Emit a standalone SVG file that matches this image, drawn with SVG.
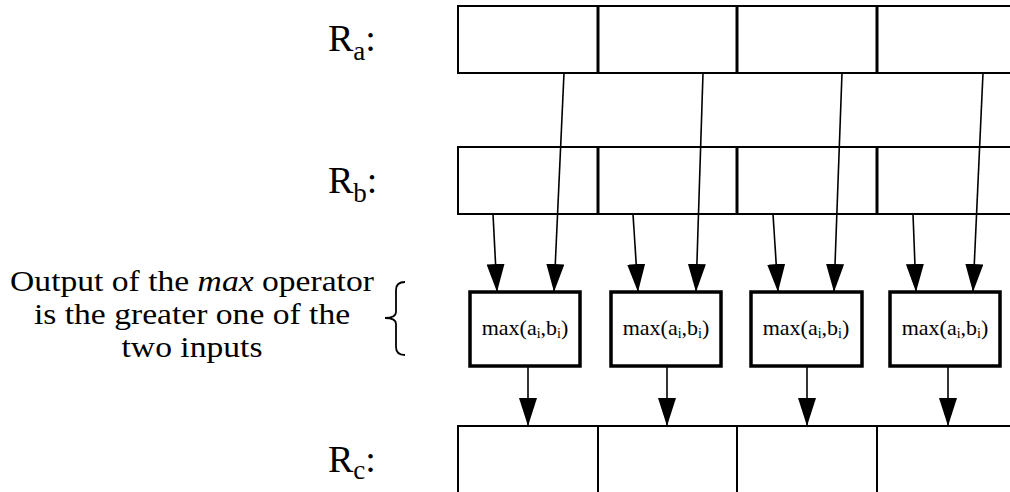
<svg xmlns="http://www.w3.org/2000/svg" width="1010" height="492" viewBox="0 0 1010 492">
  <style>
    .lbl { font-family: "Liberation Serif", "Times New Roman", serif; fill: #000; }
    .cell { fill: none; stroke: #000; stroke-width: 2; }
    .div { stroke: #000; stroke-width: 3; }
    .op { fill: #fff; stroke: #000; stroke-width: 3.5; }
    .wire { stroke: #000; stroke-width: 1.6; fill: none; marker-end: url(#head); }
  </style>
  <defs>
    <marker id="head" viewBox="0 0 28 18" markerWidth="28" markerHeight="18" refX="28" refY="9" orient="auto" markerUnits="userSpaceOnUse">
      <path d="M0,0 L28,9 L0,18 z" fill="#000"/>
    </marker>
  </defs>
  <rect width="1010" height="492" fill="#fff"/>

  <!-- register Ra -->
  <g id="reg-a">
    <rect class="cell" x="458" y="6" width="560" height="67"/>
    <line class="div" x1="598" y1="6" x2="598" y2="73"/>
    <line class="div" x1="737" y1="6" x2="737" y2="73"/>
    <line class="div" x1="877" y1="6" x2="877" y2="73"/>
    <text class="lbl" x="328" y="51" font-size="38" font-family="Liberation Serif, serif">R<tspan font-size="27" dy="9">a</tspan><tspan dy="-9">:</tspan></text>
  </g>

  <!-- register Rb -->
  <g id="reg-b">
    <rect class="cell" x="458" y="147" width="560" height="67"/>
    <line class="div" x1="598" y1="147" x2="598" y2="214"/>
    <line class="div" x1="737" y1="147" x2="737" y2="214"/>
    <line class="div" x1="877" y1="147" x2="877" y2="214"/>
    <text class="lbl" x="328" y="193" font-size="38" font-family="Liberation Serif, serif">R<tspan font-size="27" dy="9">b</tspan><tspan dy="-9">:</tspan></text>
  </g>

  <!-- register Rc -->
  <g id="reg-c">
    <rect class="cell" x="458" y="426" width="560" height="80"/>
    <line class="cell" x1="598" y1="426" x2="598" y2="492"/>
    <line class="cell" x1="737" y1="426" x2="737" y2="492"/>
    <line class="cell" x1="877" y1="426" x2="877" y2="492"/>
    <text class="lbl" x="328" y="472" font-size="38" font-family="Liberation Serif, serif">R<tspan font-size="27" dy="7">c</tspan><tspan dy="-7">:</tspan></text>
  </g>

  <!-- max operators -->
  <g id="max-1">
    <rect class="op" x="470" y="292" width="110" height="74"/>
    <text class="lbl" x="525" y="335" font-size="22" font-family="Liberation Serif, serif" text-anchor="middle">max(a<tspan font-size="14" dy="3">i</tspan><tspan dy="-3">,b</tspan><tspan font-size="14" dy="3">i</tspan><tspan dy="-3">)</tspan></text>
  </g>
  <g id="max-2">
    <rect class="op" x="611" y="292" width="110" height="74"/>
    <text class="lbl" x="666" y="335" font-size="22" font-family="Liberation Serif, serif" text-anchor="middle">max(a<tspan font-size="14" dy="3">i</tspan><tspan dy="-3">,b</tspan><tspan font-size="14" dy="3">i</tspan><tspan dy="-3">)</tspan></text>
  </g>
  <g id="max-3">
    <rect class="op" x="751" y="292" width="111" height="74"/>
    <text class="lbl" x="806" y="335" font-size="22" font-family="Liberation Serif, serif" text-anchor="middle">max(a<tspan font-size="14" dy="3">i</tspan><tspan dy="-3">,b</tspan><tspan font-size="14" dy="3">i</tspan><tspan dy="-3">)</tspan></text>
  </g>
  <g id="max-4">
    <rect class="op" x="890" y="292" width="110" height="74"/>
    <text class="lbl" x="945" y="335" font-size="22" font-family="Liberation Serif, serif" text-anchor="middle">max(a<tspan font-size="14" dy="3">i</tspan><tspan dy="-3">,b</tspan><tspan font-size="14" dy="3">i</tspan><tspan dy="-3">)</tspan></text>
  </g>

  <!-- explanatory note with brace -->
  <g id="note">
    <g transform="translate(192,0) scale(1.12,1)">
      <text class="lbl" x="0" y="291" font-size="30" font-family="Liberation Serif, serif" text-anchor="middle">Output of the <tspan font-style="italic">max</tspan> operator</text>
      <text class="lbl" x="0" y="324" font-size="30" font-family="Liberation Serif, serif" text-anchor="middle">is the greater one of the</text>
      <text class="lbl" x="0" y="357" font-size="30" font-family="Liberation Serif, serif" text-anchor="middle">two inputs</text>
    </g>
    <path d="M405,282 Q396,282 396,290 L396,312 Q396,318 385,318 Q396,318 396,324 L396,347 Q396,355 405,355" fill="none" stroke="#000" stroke-width="1.8"/>
  </g>

  <!-- data paths -->
  <g id="connectors">
    <line class="wire" x1="493" y1="214" x2="497" y2="292"/>
    <line class="wire" x1="564" y1="73" x2="554" y2="292"/>
    <line class="wire" x1="633" y1="214" x2="638" y2="292"/>
    <line class="wire" x1="703" y1="73" x2="696" y2="292"/>
    <line class="wire" x1="773" y1="214" x2="778" y2="292"/>
    <line class="wire" x1="842" y1="73" x2="834" y2="292"/>
    <line class="wire" x1="913" y1="214" x2="916" y2="292"/>
    <line class="wire" x1="983" y1="73" x2="973" y2="292"/>
    <line class="wire" x1="528" y1="366" x2="528" y2="426"/>
    <line class="wire" x1="667" y1="366" x2="667" y2="426"/>
    <line class="wire" x1="807" y1="366" x2="807" y2="426"/>
    <line class="wire" x1="948" y1="366" x2="948" y2="426"/>
  </g>
</svg>
